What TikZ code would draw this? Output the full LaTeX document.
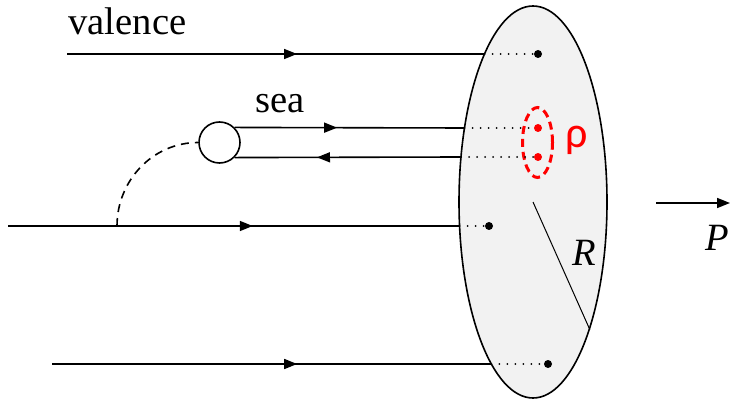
\documentclass[tikz,border=0pt]{standalone}
\usepackage{fontspec}
\setmainfont{Liberation Serif}
\newfontfamily\rhofont{Carlito}
\usetikzlibrary{arrows.meta,decorations.markings,shapes.geometric}
\definecolor{diskgray}{RGB}{242,242,242}
\tikzset{
  quark/.style={line width=0.8pt},
  midarrow/.style={quark,postaction={decorate},decoration={markings,
    mark=at position #1 with {\arrow{Triangle[length=6.5pt,width=5pt]}}}},
  dot/.style={circle,fill,inner sep=0pt,minimum size=4pt},
  link/.style={line width=1pt,dash pattern=on 0pt off 4pt,line cap=round},
  lbl/.style={anchor=base west,inner sep=0pt},
}

\begin{document}
\begin{tikzpicture}[x=0.5pt,y=-0.5pt,font=\fontsize{19.3}{23}\selectfont]
  \useasboundingbox (0,0) rectangle (731,400);
  % transverse disk
  \node[ellipse,draw,fill=diskgray,line width=0.8pt,inner sep=0pt,
        minimum width=74pt,minimum height=196pt] (disk) at (533,202) {};
  \coordinate (e1) at (484.5,54);
  \coordinate (e2) at (464.5,128);
  \coordinate (e3) at (461,157);
  \coordinate (e4) at (459.6,226);
  \coordinate (e5) at (491.3,364);
  % partons in the disk
  \node[dot] (d1) at (538,54) {};
  \node[dot,red] (d2) at (538,128) {};
  \node[dot,red] (d3) at (538,157) {};
  \node[dot] (d4) at (489,226) {};
  \node[dot] (d5) at (548,364) {};
  \node[ellipse,draw=red,line width=1.5pt,dash pattern=on 4pt off 2.5pt,
        inner sep=0pt,minimum width=15pt,minimum height=35pt] (pair) at (537.5,142.5) {};
  \node[anchor=base,inner sep=0pt,text=red,font=\rhofont\fontsize{22}{26}\selectfont] (rho) at (577,148) {ρ};
  % radius
  \draw[line width=0.5pt] (disk.center) -- (disk.-66.7);
  \node[lbl,font=\fontsize{19.3}{23}\selectfont\itshape] (rad) at (572,265) {R};
  % valence quarks
  \coordinate (q1) at (67,54);
  \coordinate (q4) at (8,226);
  \coordinate (q5) at (52,364);
  \draw[midarrow=0.551] (q1) -- (e1);
  \draw[midarrow=0.542] (q4) -- (e4);
  \draw[midarrow=0.558] (q5) -- (e5);
  \node[lbl] (val) at (68,35) {valence};
  % sea pair
  \node[circle,draw,quark,fill=white,inner sep=0pt,minimum size=20.5pt] (loop) at (219.5,142.5) {};
  \draw[midarrow=0.446] (loop.45) -- (e2);
  \draw[midarrow=0.636] (e3) -- (loop.-45);
  \node[lbl] (sea) at (255,113) {sea};
  \coordinate (g) at (117,226);
  \draw[quark,dash pattern=on 4pt off 3pt] (g) to[out=90,in=180] (loop.west);
  % dotted links
  \draw[link] (e1) -- (d1);
  \draw[link] (e2) -- (d2);
  \draw[link] (e3) -- (d3);
  \draw[link] (e4) -- (d4);
  \draw[link] (e5) -- (d5);
  % momentum
  \coordinate (p0) at (656,203);
  \coordinate (p1) at (730,203);
  \draw[quark,-{Triangle[length=6.5pt,width=5pt]}] (p0) -- (p1);
  \node[lbl,font=\fontsize{19.3}{23}\selectfont\itshape] (mom) at (705,250) {P};
\end{tikzpicture}
\end{document}
